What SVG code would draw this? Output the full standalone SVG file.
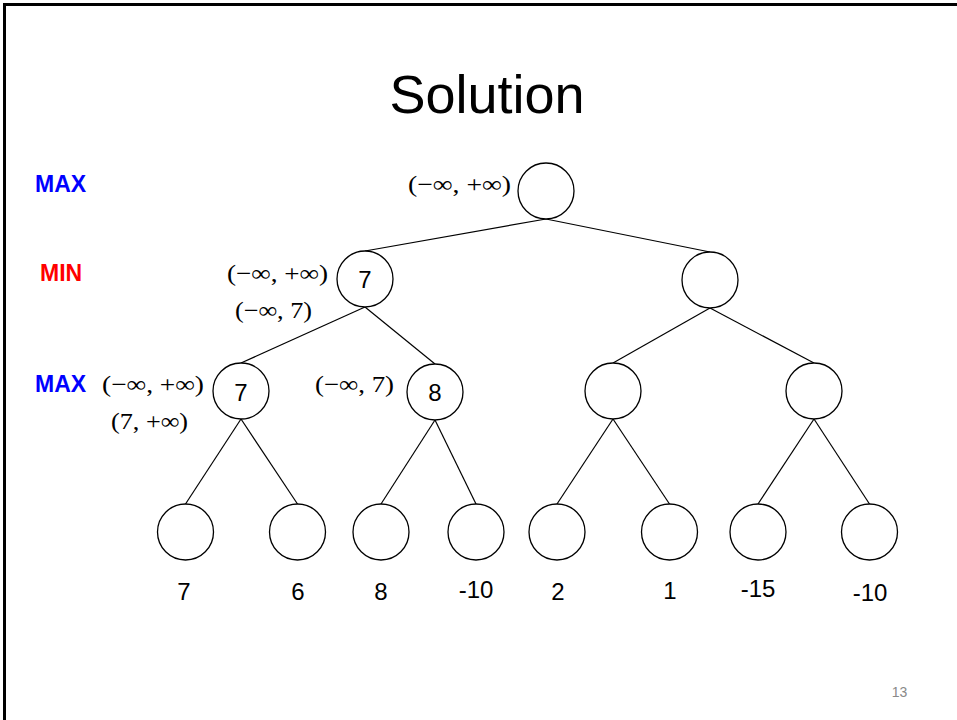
<svg xmlns="http://www.w3.org/2000/svg" width="957" height="720" viewBox="0 0 957 720">
<style>
.nd{fill:#fff;stroke:#000;stroke-width:1.3}
.ed{stroke:#000;stroke-width:1.2;fill:none}
.v{font-family:"Liberation Sans",Arial,sans-serif;font-size:24px;fill:#000;text-anchor:middle}
.iv{font-family:"Liberation Serif","Times New Roman",serif;font-size:23px;fill:#000}
.lvl{font-family:"Liberation Sans",Arial,sans-serif;font-size:23px;font-weight:bold}
</style>
<rect x="0" y="0" width="957" height="720" fill="#fff"/>
<path d="M4.5,720 V4.5 H957" fill="none" stroke="#000" stroke-width="3"/>
<text x="487" y="113" font-family="'Liberation Sans',Arial,sans-serif" font-size="54" text-anchor="middle" fill="#000">Solution</text>
<text x="899.5" y="697" font-family="'Liberation Sans',Arial,sans-serif" font-size="14" text-anchor="middle" fill="#898989">13</text>
<g id="levels">
<text class="lvl" x="35" y="192" fill="#0000ff">MAX</text>
<text class="lvl" x="40" y="281" fill="#ff0000">MIN</text>
<text class="lvl" x="35" y="392" fill="#0000ff">MAX</text>
</g>
<g id="connectors">
<line class="ed" x1="546" y1="219" x2="365" y2="251"/>
<line class="ed" x1="546" y1="219" x2="710" y2="252"/>
<line class="ed" x1="365" y1="307" x2="241" y2="363"/>
<line class="ed" x1="365" y1="307" x2="435" y2="364"/>
<line class="ed" x1="710" y1="308" x2="613" y2="363"/>
<line class="ed" x1="710" y1="308" x2="814" y2="363"/>
<line class="ed" x1="241" y1="419" x2="185.5" y2="504"/>
<line class="ed" x1="241" y1="419" x2="297.5" y2="504"/>
<line class="ed" x1="435" y1="420" x2="381" y2="504"/>
<line class="ed" x1="435" y1="420" x2="476" y2="504"/>
<line class="ed" x1="613" y1="419" x2="557" y2="504"/>
<line class="ed" x1="613" y1="419" x2="669.5" y2="504"/>
<line class="ed" x1="814" y1="419" x2="758" y2="504"/>
<line class="ed" x1="814" y1="419" x2="869.5" y2="504"/>
</g>
<g id="root">
<circle class="nd" cx="546" cy="191" r="28"/>
<text class="iv" x="408" y="192" textLength="103" lengthAdjust="spacingAndGlyphs">(−∞, +∞)</text>
</g>
<g id="n1">
<circle class="nd" cx="365" cy="279" r="28"/>
<text class="v" x="365" y="288">7</text>
<text class="iv" x="227" y="281" textLength="101" lengthAdjust="spacingAndGlyphs">(−∞, +∞)</text>
<text class="iv" x="235" y="318" textLength="77" lengthAdjust="spacingAndGlyphs">(−∞, 7)</text>
</g>
<g id="n2">
<circle class="nd" cx="710" cy="280" r="28"/>
</g>
<g id="n3">
<circle class="nd" cx="241" cy="391" r="28"/>
<text class="v" x="241" y="401">7</text>
<text class="iv" x="102" y="392" textLength="102" lengthAdjust="spacingAndGlyphs">(−∞, +∞)</text>
<text class="iv" x="111" y="429" textLength="77" lengthAdjust="spacingAndGlyphs">(7, +∞)</text>
</g>
<g id="n4">
<circle class="nd" cx="435" cy="392" r="28"/>
<text class="v" x="435" y="401">8</text>
<text class="iv" x="315" y="392" textLength="79" lengthAdjust="spacingAndGlyphs">(−∞, 7)</text>
</g>
<g id="n5"><circle class="nd" cx="613" cy="391" r="28"/></g>
<g id="n6"><circle class="nd" cx="814" cy="391" r="28"/></g>
<g id="leaf1"><circle class="nd" cx="185.5" cy="532" r="28"/><text class="v" x="184" y="600">7</text></g>
<g id="leaf2"><circle class="nd" cx="297.5" cy="532" r="28"/><text class="v" x="298" y="600">6</text></g>
<g id="leaf3"><circle class="nd" cx="381" cy="532" r="28"/><text class="v" x="381" y="600">8</text></g>
<g id="leaf4"><circle class="nd" cx="476" cy="532" r="28"/><text class="v" x="476" y="598">-10</text></g>
<g id="leaf5"><circle class="nd" cx="557" cy="532" r="28"/><text class="v" x="558" y="600">2</text></g>
<g id="leaf6"><circle class="nd" cx="669.5" cy="532" r="28"/><text class="v" x="670" y="599">1</text></g>
<g id="leaf7"><circle class="nd" cx="758" cy="532" r="28"/><text class="v" x="758" y="597">-15</text></g>
<g id="leaf8"><circle class="nd" cx="869.5" cy="532" r="28"/><text class="v" x="870" y="601">-10</text></g>
</svg>
